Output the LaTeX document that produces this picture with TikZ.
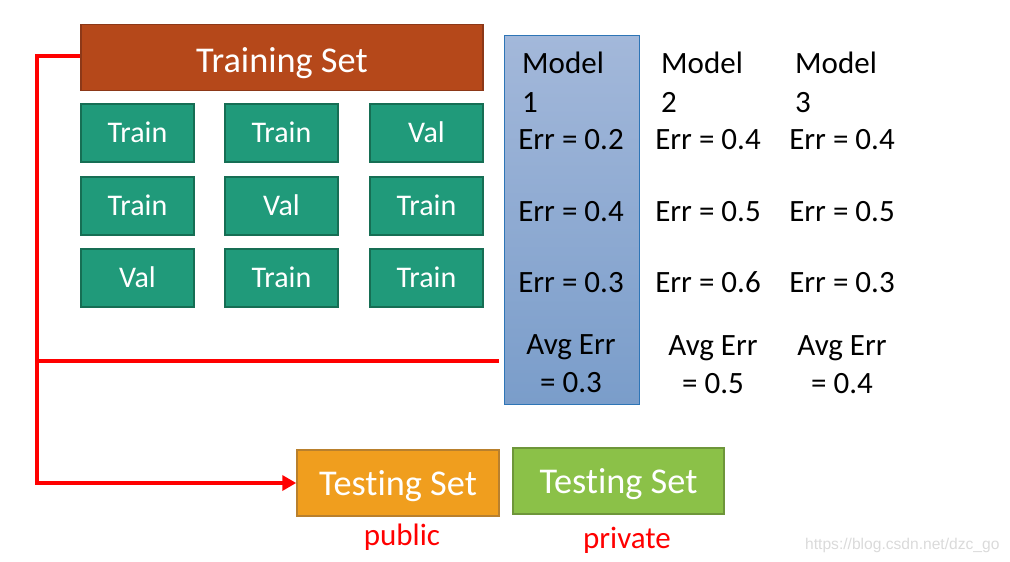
\documentclass[tikz,border=0pt]{standalone}
\usepackage{fontspec}
\setmainfont{Carlito}[Ligatures=NoCommon]
\newfontfamily\wmfont{Liberation Sans}
\usetikzlibrary{arrows.meta,positioning}
\definecolor{trainbrown}{RGB}{181,72,26}
\definecolor{trainbrowndk}{RGB}{140,56,24}
\definecolor{teal}{RGB}{32,154,122}
\definecolor{tealdk}{RGB}{22,110,84}
\definecolor{modeltop}{RGB}{163,184,218}
\definecolor{modelbot}{RGB}{122,157,202}
\definecolor{modelborder}{RGB}{46,117,182}
\definecolor{pubor}{RGB}{240,158,30}
\definecolor{puborlk}{RGB}{185,128,45}
\definecolor{privgr}{RGB}{139,193,72}
\definecolor{privgrdk}{RGB}{110,150,58}
\definecolor{wm}{RGB}{218,218,218}
\tikzset{
  bigbox/.style={draw=#1, line width=1.5pt, inner sep=0pt, text=white,
    font=\fontsize{36.3}{43}\selectfont},
  foldbox/.style={draw=tealdk, fill=teal, line width=1.5pt, inner sep=0pt, text=white,
    minimum width=113pt, minimum height=58pt, text height=19pt, text depth=0pt,
    font=\fontsize{30}{36}\selectfont},
  errtxt/.style={inner sep=0pt, font=\fontsize{31}{38}\selectfont},
  redtxt/.style={inner sep=0pt, text=red, font=\fontsize{31}{38}\selectfont},
  redline/.style={draw=red, line width=4pt},
}
\begin{document}
\begin{tikzpicture}[x=1pt,y=-1pt]
\useasboundingbox (0,0) rectangle (1010,562);

% Training set
\node[bigbox=trainbrowndk, fill=trainbrown, minimum width=402pt, minimum height=66pt,
  text height=29pt, text depth=0pt] (train) at (282,57.5) {Training Set};

% folds
\node[foldbox] (f11) at (137.5,133) {Train};
\node[foldbox] (f12) at (281.5,133) {Train};
\node[foldbox] (f13) at (426.5,133) {Val};
\node[foldbox] (f21) at (137.5,206) {Train};
\node[foldbox] (f22) at (281.5,206) {Val};
\node[foldbox] (f23) at (426.5,206) {Train};
\node[foldbox] (f31) at (137.5,278) {Val};
\node[foldbox] (f32) at (281.5,278) {Train};
\node[foldbox] (f33) at (426.5,278) {Train};

% Model 1 highlight
\node[draw=modelborder, line width=1pt, top color=modeltop, bottom color=modelbot,
  minimum width=135pt, minimum height=369pt, inner sep=0pt] (m1) at (571.5,219.5) {};

% Model headers
\node[errtxt, anchor=base west] (h1a) at (522,73) {Model};
\node[errtxt, anchor=base west] (h1b) at (522,112) {1};
\node[errtxt, anchor=base west] (h2a) at (661,73) {Model};
\node[errtxt, anchor=base west] (h2b) at (661,112) {2};
\node[errtxt, anchor=base west] (h3a) at (795,73) {Model};
\node[errtxt, anchor=base west] (h3b) at (795,112) {3};

% Errors
\node[errtxt, anchor=base] (e11) at (571,149) {Err = 0.2};
\node[errtxt, anchor=base] (e12) at (708,149) {Err = 0.4};
\node[errtxt, anchor=base] (e13) at (842,149) {Err = 0.4};
\node[errtxt, anchor=base] (e21) at (571,221) {Err = 0.4};
\node[errtxt, anchor=base] (e22) at (708,221) {Err = 0.5};
\node[errtxt, anchor=base] (e23) at (842,221) {Err = 0.5};
\node[errtxt, anchor=base] (e31) at (571,292) {Err = 0.3};
\node[errtxt, anchor=base] (e32) at (708,292) {Err = 0.6};
\node[errtxt, anchor=base] (e33) at (842,292) {Err = 0.3};

% Averages
\node[errtxt, anchor=base] (a1a) at (571,354) {Avg Err};
\node[errtxt, anchor=base] (a1b) at (571,392) {= 0.3};
\node[errtxt, anchor=base] (a2a) at (713,355) {Avg Err};
\node[errtxt, anchor=base] (a2b) at (713,393) {= 0.5};
\node[errtxt, anchor=base] (a3a) at (842,355) {Avg Err};
\node[errtxt, anchor=base] (a3b) at (842,393) {= 0.4};

% Testing sets
\node[bigbox=puborlk, fill=pubor, minimum width=202pt, minimum height=66pt,
  text height=24pt, text depth=0pt] (test1) at (398,483) {Testing Set};
\node[bigbox=privgrdk, fill=privgr, minimum width=211pt, minimum height=66pt,
  text height=24pt, text depth=0pt] (test2) at (618.5,481) {Testing Set};
\node[redtxt, anchor=base] (pub) at (402,545) {public};
\node[redtxt, anchor=base] (priv) at (627,548) {private};

% red connectors
\coordinate (corner) at (37,56);
\coordinate (branch) at (37,361);
\coordinate (avgend) at (499,361);
\draw[redline, line join=miter, -{Triangle[length=14pt,width=15pt]}]
  (train.west |- corner) -- (corner) |- (test1.west);
\draw[redline] (branch) -- (avgend);

% watermark
\node[anchor=base west, inner sep=0pt, text=wm, font=\wmfont\fontsize{15.6}{19}\selectfont]
  (wmark) at (805,549) {https://blog.csdn.net/dzc\_go};
\end{tikzpicture}
\end{document}
